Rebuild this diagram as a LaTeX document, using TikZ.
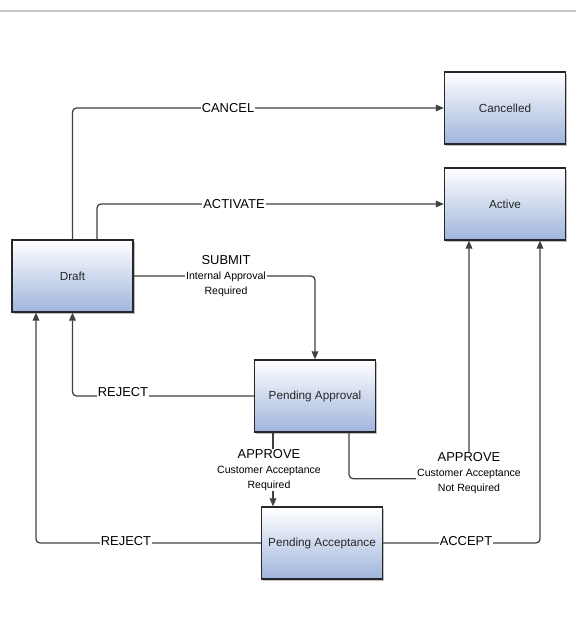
\documentclass[tikz,border=0pt]{standalone}
\usepackage{fontspec}
\setmainfont{Liberation Sans}
\usepackage{tikz}
\usetikzlibrary{arrows.meta,calc,shadows}
\definecolor{boxblue}{RGB}{160,181,221}
\definecolor{linegray}{RGB}{64,64,64}
\newcommand\lblfont{\fontsize{9.7pt}{11pt}\selectfont}
\newcommand\subfont{\fontsize{7.9pt}{11pt}\selectfont}

\begin{document}
\begin{tikzpicture}[x=0.75pt, y=-0.75pt,
  state/.style={draw=black!85, line width=1pt, top color=white, bottom color=boxblue,
    minimum width=90.75pt, minimum height=54pt, inner sep=0pt, text=black!85,
    font=\fontsize{8.8pt}{10pt}\selectfont,
    drop shadow={shadow xshift=1.2pt, shadow yshift=-1.2pt, fill=black, opacity=0.25}},
  flow/.style={draw=linegray, line width=0.95pt, rounded corners=3pt, -{Triangle[length=6pt,width=5pt]}},
  lbl/.style={fill=white, inner sep=0.8pt, font=\lblfont},
  sublbl/.style={fill=white, inner sep=0.8pt, align=center, font=\subfont}]
\useasboundingbox (0,0) rectangle (576,624);
\draw[color=black!22, line width=0.8pt] (0,11) -- (576,11);

\node[state] (draft) at (72.5,276) {Draft};
\node[state] (cancelled) at (505,108) {Cancelled};
\node[state] (active) at (505,204) {Active};
\node[state] (pendApproval) at (315,396) {Pending Approval};
\node[state] (pendAccept) at (322,543) {Pending Acceptance};

\coordinate (apA) at ($(pendApproval.south)+(-42,0)$);
\coordinate (apB) at ($(pendApproval.south)+(34,0)$);
\coordinate (apC) at ($(active.south)+(-36,0)$);

\draw[flow] (draft.north) |- (cancelled.west);
\draw[flow] ($(draft.north)+(24.5,0)$) |- (active.west);
\draw[flow] (draft.east) -| (pendApproval.north);
\draw[flow] (pendApproval.west) -| (draft.south);
\draw[flow] (apA) -- (apA |- pendAccept.north);
\draw[flow] (apB) |- ($(apC)+(0,238)$) -- (apC);
\draw[flow] (pendAccept.west) -| ($(draft.south)+(-36.5,0)$);
\draw[flow] (pendAccept.east) -| ($(active.south)+(35,0)$);

\node[lbl] (lCancel) at (228,108) {CANCEL};
\node[lbl] (lActivate) at (234,204) {ACTIVATE};
\node[sublbl] (lSubmit) at (226,276) {{\lblfont SUBMIT}\\Internal Approval\\Required};
\node[lbl] (lRejectA) at (123,392) {REJECT};
\node[sublbl] (lApproveA) at (269,470) {{\lblfont APPROVE}\\Customer Acceptance\\Required};
\node[sublbl] (lApproveB) at (469,473) {{\lblfont APPROVE}\\Customer Acceptance\\Not Required};
\node[lbl] (lRejectB) at (126,541) {REJECT};
\node[lbl] (lAccept) at (466,541) {ACCEPT};
\end{tikzpicture}
\end{document}
